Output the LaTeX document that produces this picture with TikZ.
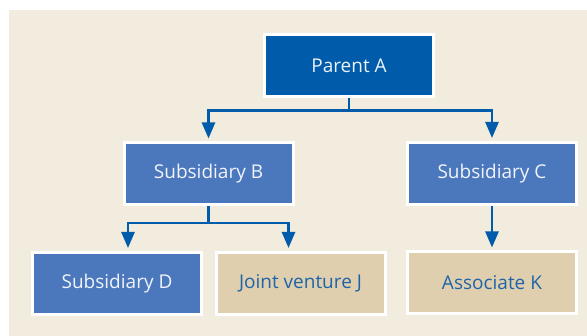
\documentclass[tikz,border=0pt]{standalone}
\usepackage{fontspec}
\setmainfont{Open Sans}
\usetikzlibrary{arrows.meta}
\definecolor{bgcream}{HTML}{F2ECDE}
\definecolor{darkblue}{HTML}{005BAA}
\definecolor{midblue}{HTML}{4B77BD}
\definecolor{tanbox}{HTML}{DFCFAE}
\definecolor{linkblue}{HTML}{005BAA}
\definecolor{tantext}{HTML}{1F63A8}
\tikzset{
  orgbox/.style={draw=white, line width=3pt, minimum width=169pt, minimum height=62pt, inner sep=0pt, font=\fontsize{19}{21}\selectfont},
  parentbox/.style={orgbox, fill=darkblue, text=white!92!darkblue},
  subbox/.style={orgbox, fill=midblue, text=white!92!midblue},
  tanbx/.style={orgbox, fill=tanbox, text=tantext},
  link/.style={draw=linkblue, line width=2.6pt},
  arr/.style={link, -{Triangle[length=16pt,width=13pt]}, shorten >=3pt},
}
\begin{document}
\begin{tikzpicture}[x=1pt,y=-1pt]
\useasboundingbox (0,0) rectangle (587,336);
\fill[bgcream] (9,10) rectangle (587,336);
\node[parentbox] (A) at (349,65.5) {Parent A};
\node[subbox] (B) at (208.5,174) {Subsidiary B};
\node[subbox] (C) at (492,173.5) {Subsidiary C};
\node[subbox] (D) at (117,283.5) {Subsidiary D};
\node[tanbx] (J) at (300.5,283.5) {Joint venture J};
\node[tanbx] (K) at (492,283) {Associate K};
\coordinate (ab) at (349,110.5);
\coordinate (bb) at (208.5,223);
\draw[link] (A.south) -- (ab);
\draw[arr] (ab) -| (B.north);
\draw[arr] (ab) -| (C.north);
\draw[link] (B.south) -- (bb);
\draw[arr] (bb) -| ([xshift=11pt]D.north);
\draw[arr] (bb) -| ([xshift=-12pt]J.north);
\draw[arr] (C.south) -- (K.north);
\end{tikzpicture}
\end{document}
